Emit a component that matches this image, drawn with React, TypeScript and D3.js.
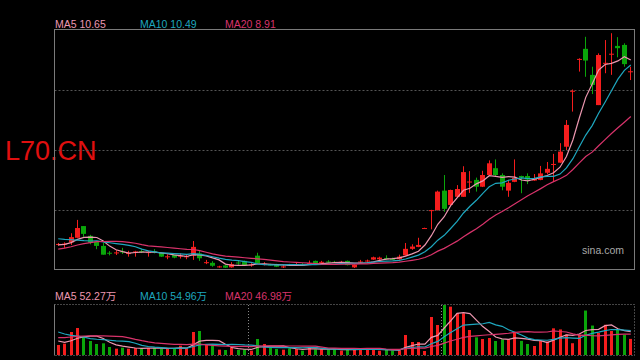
import React, { useRef, useEffect } from "react";
import * as d3 from "d3";

const symbol = "L70.CN";
const watermark = "sina.com";

// daily candles, oldest first
const opens = [
  4.97, 4.98, 5.04, 5.18, 5.54, 5.24, 5.05, 4.93, 4.72, 4.71,
  4.76, 4.69, 4.75, 4.77, 4.72, 4.76, 4.72, 4.59, 4.65, 4.61,
  4.59, 4.63, 4.70, 4.42, 4.41, 4.28, 4.33, 4.27, 4.42, 4.47,
  4.34, 4.63, 4.36, 4.36, 4.37, 4.28, 4.35, 4.35, 4.36, 4.38,
  4.47, 4.42, 4.45, 4.44, 4.43, 4.47, 4.27, 4.44, 4.47, 4.51,
  4.52, 4.56, 4.53, 4.52, 4.64, 4.84, 4.90, 5.47, 6.02, 6.03,
  6.63, 6.19, 6.44, 6.44, 6.90, 6.96, 6.75, 7.11, 7.32, 7.11,
  6.63, 6.90, 7.08, 7.08, 6.94, 6.96, 7.18, 7.44, 7.49, 7.98,
  9.69, 10.67, 10.99, 10.19, 9.26, 10.55, 10.83, 11.08, 11.11, 10.29,
];
const highs = [
  5.02, 5.04, 5.32, 5.73, 5.54, 5.27, 5.05, 5.03, 4.77, 4.80,
  4.87, 4.78, 4.78, 4.83, 4.78, 4.83, 4.73, 4.67, 4.66, 4.70,
  4.67, 5.08, 4.78, 4.50, 4.46, 4.32, 4.34, 4.43, 4.47, 4.48,
  4.40, 4.72, 4.43, 4.38, 4.38, 4.35, 4.38, 4.42, 4.40, 4.48,
  4.48, 4.47, 4.49, 4.47, 4.47, 4.48, 4.36, 4.50, 4.51, 4.60,
  4.60, 4.64, 4.57, 4.66, 5.02, 4.98, 5.18, 5.49, 6.04, 6.63,
  7.11, 6.66, 6.80, 7.38, 7.23, 7.03, 7.24, 7.56, 7.59, 7.16,
  6.96, 7.59, 7.09, 7.16, 7.14, 7.39, 7.51, 7.76, 8.09, 8.80,
  9.74, 10.70, 11.36, 10.44, 10.85, 11.26, 11.47, 11.35, 11.16, 10.44,
];
const lows = [
  4.93, 4.87, 4.96, 5.18, 5.21, 4.98, 4.83, 4.66, 4.64, 4.65,
  4.68, 4.60, 4.60, 4.71, 4.60, 4.70, 4.59, 4.52, 4.55, 4.54,
  4.52, 4.50, 4.47, 4.37, 4.29, 4.26, 4.25, 4.26, 4.35, 4.32,
  4.29, 4.39, 4.33, 4.33, 4.28, 4.25, 4.32, 4.33, 4.34, 4.35,
  4.36, 4.40, 4.41, 4.40, 4.41, 4.33, 4.25, 4.39, 4.44, 4.50,
  4.50, 4.52, 4.49, 4.51, 4.63, 4.81, 4.89, 5.46, 5.44, 6.02,
  5.98, 6.17, 6.43, 6.44, 6.56, 6.60, 6.74, 7.10, 7.06, 6.64,
  6.44, 6.89, 6.55, 6.83, 6.93, 6.95, 7.14, 6.90, 7.48, 7.88,
  9.06, 10.29, 10.13, 9.60, 9.26, 10.24, 10.19, 10.73, 10.44, 10.03,
];
const closes = [
  4.99, 5.00, 5.20, 5.48, 5.30, 5.03, 4.93, 4.66, 4.70, 4.73,
  4.74, 4.71, 4.76, 4.75, 4.74, 4.74, 4.60, 4.61, 4.57, 4.63,
  4.61, 4.90, 4.55, 4.43, 4.32, 4.30, 4.26, 4.37, 4.40, 4.34,
  4.36, 4.40, 4.38, 4.35, 4.29, 4.30, 4.34, 4.37, 4.35, 4.40,
  4.37, 4.44, 4.43, 4.43, 4.44, 4.34, 4.35, 4.45, 4.48, 4.58,
  4.57, 4.55, 4.52, 4.60, 4.84, 4.91, 4.96, 5.48, 6.03, 6.60,
  6.07, 6.65, 6.68, 7.20, 6.91, 6.75, 7.11, 7.47, 7.11, 6.75,
  6.87, 7.02, 7.03, 6.97, 7.01, 7.16, 7.30, 7.45, 7.83, 8.65,
  9.70, 10.68, 10.63, 9.88, 10.80, 10.56, 10.84, 11.01, 10.52, 10.30,
];
// volume in 万 shares
const volumes = [
  22.5, 25.5, 51.75, 60.75, 42.75, 31.5, 24.75, 26.25, 18, 14.25,
  16.5, 14.25, 15.75, 14.25, 15.75, 16.5, 14.25, 13.5, 14.25, 21,
  14.25, 51.75, 54, 22.5, 21, 12, 11.25, 17.25, 11.25, 12.75,
  9.75, 36, 24.75, 16.5, 13.5, 12, 15, 13.5, 9.75, 18,
  12.75, 12.75, 12.75, 12.75, 9.75, 12.75, 12.75, 14.25, 13.5, 12.75,
  9.75, 11.25, 9.75, 10.5, 45, 29.25, 29.25, 9, 85.5, 67.5,
  112.5, 108.75, 93.75, 93.75, 56.25, 39.75, 36, 38.25, 31.5, 35.25,
  35.5, 52, 31.75, 24.75, 20.25, 32, 30.25, 60, 57.5, 46,
  26.5, 46, 100, 66.25, 49.5, 68, 54, 57.5, 45.6, 36.25,
];
// the 19 sessions before the first visible one, needed for the averages
const prevCloses = [
  4.35, 4.38, 4.40, 4.42, 4.39, 4.40, 4.55, 4.65, 4.75, 4.81,
  5.2, 5.3, 5.6, 5.48, 5.12, 4.90, 4.95, 4.98, 4.98,
];
const prevVolumes = [
  22, 25, 30, 28, 24, 27, 26, 29, 25, 26.5,
  70, 85, 75, 68, 62, 40, 35, 32, 28,
];
// session index where a new month starts
const monthStarts = [30, 60];

const maPeriods = [5, 10, 20];
const maColors = ["#ec97b0", "#1ea7bf", "#d8336b"];
const priceDomain = [4.22, 11.6];

const UP = "#f51d1d";
const DOWN = "#0aa50a";
const FONT = "'Liberation Sans', Arial, 'Noto Sans CJK SC', sans-serif";

const movingAverage = (prev: number[], vals: number[], period: number) => {
  const all = prev.concat(vals);
  return vals.map((_, i) => {
    const end = i + prev.length + 1;
    return d3.mean(all.slice(end - period, end)) as number;
  });
};

const App = () => {
  const ref = useRef<SVGSVGElement>(null);

  useEffect(() => {
    const svg = d3.select(ref.current);
    svg.selectAll("*").remove();

    const width = 640;
    const height = 360;
    const main = { left: 54.5, right: 634.5, top: 29.5, bottom: 269.5 };
    const vol = { top: 305, bottom: 355 };

    svg.attr("width", width).attr("height", height).style("background", "#000");

    const idx = d3.range(closes.length);
    const x = d3.scaleBand<number>().domain(idx).range([55, 634]).padding(0);
    const cx = (i: number) => (x(i) as number) + x.bandwidth() / 2;

    const y = d3.scaleLinear().domain(priceDomain).range([269, 29]);
    const yv = d3.scaleLinear().domain([0, d3.max(volumes) as number]).range([vol.bottom, vol.top]);

    // title behind everything
    svg.append("text")
      .attr("x", 5)
      .attr("y", 159.5)
      .attr("fill", "#e00f0f")
      .style("font-family", FONT)
      .style("font-size", "27px")
      .text(symbol);

    // price grid
    [0.25, 0.5, 0.75].forEach(f => {
      const gy = Math.round(main.top + (main.bottom - main.top) * f) + 0.5;
      svg.append("line")
        .attr("x1", main.left).attr("x2", main.right)
        .attr("y1", gy).attr("y2", gy)
        .attr("stroke", "#555")
        .attr("stroke-dasharray", "2,2");
    });

    svg.append("rect")
      .attr("x", main.left).attr("y", main.top)
      .attr("width", main.right - main.left).attr("height", main.bottom - main.top)
      .attr("fill", "none")
      .attr("stroke", "#7a7a7a");

    svg.append("text")
      .attr("x", 582)
      .attr("y", 253.5)
      .attr("fill", "#a8a8a8")
      .style("font-family", FONT)
      .style("font-size", "10.5px")
      .text(watermark);

    // candles
    const g = svg.append("g");
    idx.forEach(i => {
      const o = opens[i], c = closes[i];
      const color = c >= o ? UP : DOWN;
      const left = Math.round(cx(i) - 2.5);
      const mid = left + 2.5;
      g.append("line")
        .attr("x1", mid).attr("x2", mid)
        .attr("y1", y(highs[i])).attr("y2", y(lows[i]))
        .attr("stroke", color);
      const top = y(Math.max(o, c));
      const h = Math.max(1, y(Math.min(o, c)) - top);
      g.append("rect")
        .attr("x", left).attr("y", top)
        .attr("width", 5).attr("height", h)
        .attr("fill", color);
    });

    const line = d3.line<number>()
      .x((_, i) => cx(i))
      .y(d => y(d));

    const priceMA = maPeriods.map(p => movingAverage(prevCloses, closes, p));
    priceMA.forEach((ma, k) => {
      svg.append("path")
        .datum(ma)
        .attr("fill", "none")
        .attr("stroke", maColors[k])
        .attr("stroke-width", 1.2)
        .attr("d", line);
    });

    // price legend
    priceMA.forEach((ma, k) => {
      svg.append("text")
        .attr("x", 55 + k * 85)
        .attr("y", 27.5)
        .attr("fill", maColors[k])
        .style("font-family", FONT)
        .style("font-size", "10.5px")
        .text(`MA${maPeriods[k]} ${ma[ma.length - 1].toFixed(2)}`);
    });

    // volume panel
    const vb = svg.append("g");
    idx.forEach(i => {
      const color = closes[i] >= opens[i] ? UP : DOWN;
      vb.append("rect")
        .attr("x", Math.round(cx(i) - 1.5))
        .attr("y", yv(volumes[i]))
        .attr("width", 3)
        .attr("height", vol.bottom - yv(volumes[i]))
        .attr("fill", color);
    });

    monthStarts.forEach(m => {
      const mx = Math.round(x(m) as number) + 0.5;
      svg.append("line")
        .attr("x1", mx).attr("x2", mx)
        .attr("y1", vol.top).attr("y2", vol.bottom)
        .attr("stroke", "#888")
        .attr("stroke-dasharray", "1,2");
    });

    const vline = d3.line<number>()
      .x((_, i) => cx(i))
      .y(d => yv(d));

    const volMA = maPeriods.map(p => movingAverage(prevVolumes, volumes, p));
    volMA.forEach((ma, k) => {
      svg.append("path")
        .datum(ma)
        .attr("fill", "none")
        .attr("stroke", maColors[k])
        .attr("stroke-width", 1.2)
        .attr("d", vline);
    });

    // volume frame: dotted top/right/bottom, solid left
    const vt = vol.top - 0.5, vbm = vol.bottom + 0.5;
    svg.append("path")
      .attr("d", `M${main.left},${vt}H${main.right}V${vbm}H${main.left}`)
      .attr("fill", "none")
      .attr("stroke", "#888")
      .attr("stroke-dasharray", "1,2");
    svg.append("line")
      .attr("x1", main.left).attr("x2", main.left)
      .attr("y1", vt).attr("y2", vbm)
      .attr("stroke", "#7a7a7a");

    volMA.forEach((ma, k) => {
      svg.append("text")
        .attr("x", 55 + k * 85)
        .attr("y", 299.5)
        .attr("fill", maColors[k])
        .style("font-family", FONT)
        .style("font-size", "10.5px")
        .text(`MA${maPeriods[k]} ${ma[ma.length - 1].toFixed(2)}万`);
    });
  }, []);

  return (
    <svg
      ref={ref}
      style={{ position: "absolute", left: 0, top: 0, display: "block" }}
    ></svg>
  );
};

export default App;
